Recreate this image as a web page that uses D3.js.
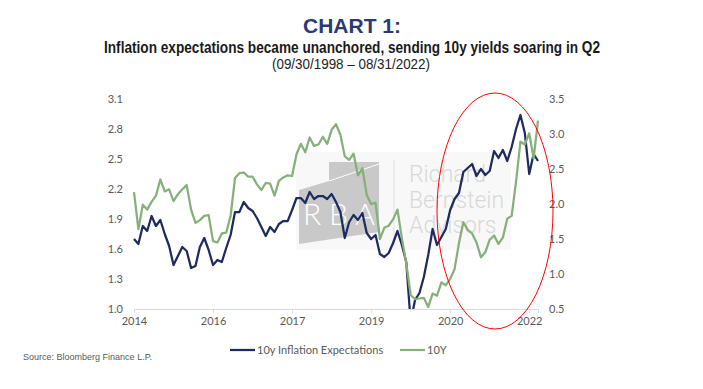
<!DOCTYPE html>
<html lang="en">
  <head>
    <meta charset="UTF-8" />
    <title>Chart 1</title>
    <style>
      body { margin: 0; background: #fff; }
      text { font-family: Lato, "Liberation Sans", sans-serif; }
    </style>
  </head>
  <body>
    <svg id="svg" width="703" height="389"></svg>
    <script src="https://d3js.org/d3.v7.min.js"></script>
    <script>
      // monthly, Dec 2014 .. Aug 2022
      const months = d3.timeMonth.range(new Date(2014, 11, 1), new Date(2022, 8, 1));

      const inflationExp = [
        1.70, 1.65, 1.83, 1.78, 1.93, 1.83, 1.89, 1.75, 1.63, 1.44, 1.53, 1.62, 1.58,
        1.41, 1.43, 1.62, 1.71, 1.59, 1.44, 1.49, 1.47, 1.61, 1.74, 1.97, 1.97,
        2.07, 2.01, 1.98, 1.91, 1.82, 1.73, 1.82, 1.77, 1.85, 1.88, 1.88, 1.99,
        2.11, 2.11, 2.06, 2.17, 2.10, 2.13, 2.13, 2.10, 2.15, 2.07, 1.97, 1.71,
        1.87, 1.94, 1.89, 1.96, 1.76, 1.70, 1.74, 1.55, 1.52, 1.56, 1.66, 1.78,
        1.64, 1.47, 0.87, 1.09, 1.16, 1.32, 1.54, 1.80, 1.64, 1.72, 1.80, 1.99,
        2.10, 2.16, 2.37, 2.41, 2.45, 2.33, 2.40, 2.34, 2.38, 2.58, 2.51, 2.59,
        2.48, 2.62, 2.80, 2.94, 2.76, 2.35, 2.55, 2.48
      ];

      const tenYear = [
        2.17, 1.64, 1.99, 1.92, 2.03, 2.12, 2.35, 2.18, 2.21, 2.04, 2.14, 2.21, 2.27,
        1.92, 1.73, 1.77, 1.83, 1.84, 1.47, 1.45, 1.58, 1.59, 1.83, 2.37, 2.44,
        2.45, 2.39, 2.39, 2.28, 2.20, 2.30, 2.29, 2.12, 2.33, 2.38, 2.41, 2.40,
        2.71, 2.86, 2.74, 2.95, 2.83, 2.85, 2.96, 2.86, 3.06, 3.14, 2.99, 2.68,
        2.63, 2.72, 2.41, 2.51, 2.13, 2.00, 2.02, 1.50, 1.66, 1.69, 1.78, 1.92,
        1.51, 1.15, 0.70, 0.64, 0.65, 0.66, 0.53, 0.72, 0.69, 0.88, 0.84, 0.93,
        1.07, 1.44, 1.74, 1.63, 1.58, 1.45, 1.24, 1.31, 1.49, 1.55, 1.43, 1.52,
        1.79, 1.83, 2.32, 2.89, 2.85, 3.01, 2.65, 3.19
      ];

      const leftTicks = [1.0, 1.3, 1.6, 1.9, 2.2, 2.5, 2.8, 3.1];
      const rightTicks = [0.5, 1.0, 1.5, 2.0, 2.5, 3.0, 3.5];
      const xTickIndex = [0, 18, 36, 54, 72, 90];
      const xTickLabels = ["2014", "2016", "2017", "2019", "2020", "2022"];

      const navy = "#1f2a5e";
      const green = "#86b07a";
      const grey = "#595959";

      const plot = { left: 134, right: 538, top: 99, bottom: 309 };

      const svg = d3.select("#svg");
      svg.append("rect").attr("width", 703).attr("height", 389).attr("fill", "#fff");

      // Titles
      svg.append("text")
        .attr("x", 352).attr("y", 33)
        .attr("text-anchor", "middle")
        .style("font-family", "'Liberation Sans', Arial, sans-serif")
        .style("font-weight", "bold")
        .style("font-size", "21px")
        .attr("fill", "#2b3a72")
        .text("CHART 1:");

      svg.append("text")
        .attr("x", 352).attr("y", 53)
        .attr("text-anchor", "middle")
        .attr("textLength", 496)
        .attr("lengthAdjust", "spacingAndGlyphs")
        .style("font-family", "'Liberation Sans Narrow', 'Liberation Sans', sans-serif")
        .style("font-weight", "bold")
        .style("font-size", "16px")
        .attr("fill", "#1a1a1a")
        .text("Inflation expectations became unanchored, sending 10y yields soaring in Q2");

      svg.append("text")
        .attr("x", 351).attr("y", 69)
        .attr("text-anchor", "middle")
        .attr("textLength", 158)
        .attr("lengthAdjust", "spacingAndGlyphs")
        .style("font-family", "'Liberation Sans Narrow', 'Liberation Sans', sans-serif")
        .style("font-size", "14px")
        .attr("fill", "#222")
        .text("(09/30/1998 \u2013 08/31/2022)");

      // Watermark (behind the lines)
      const wm = svg.append("g");
      wm.append("rect")
        .attr("x", 296).attr("y", 152).attr("width", 215).attr("height", 98)
        .attr("fill", "#f8f8f8");
      wm.append("polygon")
        .attr("points", "299,190 329,181 329,162 379,162 379,232 299,244")
        .attr("fill", "#c9c9c9");
      wm.append("line")
        .attr("x1", 329).attr("y1", 181).attr("x2", 379).attr("y2", 164)
        .attr("stroke", "#fff").attr("stroke-width", 1);
      wm.append("text")
        .attr("x", 303).attr("y", 225)
        .attr("textLength", 72)
        .attr("lengthAdjust", "spacing")
        .style("font-size", "30px")
        .style("font-weight", 300)
        .attr("fill", "#fff")
        .text("RBA");
      wm.append("line")
        .attr("x1", 394).attr("y1", 160).attr("x2", 394).attr("y2", 246)
        .attr("stroke", "#e0e0e0").attr("stroke-width", 1);
      ["Richard", "Bernstein", "Advisors"].forEach((t, i) => {
        wm.append("text")
          .attr("x", 409).attr("y", 182 + i * 25.5)
          .style("font-family", "Roboto, sans-serif")
          .style("font-weight", 300)
          .style("font-size", "23px")
          .attr("fill", "#d8d8d8")
          .text(t);
      });

      // Scales
      const x = d3.scalePoint()
        .domain(d3.range(months.length))
        .range([plot.left, plot.right]);
      const yL = d3.scaleLinear().domain([1.0, 3.1]).range([plot.bottom, plot.top]);
      const yR = d3.scaleLinear().domain([0.5, 3.5]).range([plot.bottom, plot.top]);

      // x axis
      const xAxis = svg.append("g")
        .attr("transform", `translate(0, ${plot.bottom})`)
        .call(d3.axisBottom(x)
          .tickValues(xTickIndex)
          .tickFormat((d, i) => xTickLabels[i])
          .tickSizeOuter(0)
          .tickSize(4)
          .tickPadding(4));
      xAxis.select(".domain").attr("stroke", "#d9d9d9");
      xAxis.selectAll(".tick line").attr("stroke", "#d9d9d9");
      xAxis.selectAll("text").attr("fill", grey).style("font-size", "11px")
        .style("font-family", "Lato, sans-serif");

      // y axes
      const leftAxis = svg.append("g")
        .attr("transform", `translate(${plot.left}, 0)`)
        .call(d3.axisLeft(yL).tickValues(leftTicks).tickFormat(d3.format(".1f"))
          .tickSize(0).tickPadding(11));
      leftAxis.select(".domain").remove();
      leftAxis.selectAll("text").attr("fill", grey).style("font-size", "11px")
        .style("font-family", "Lato, sans-serif");

      const rightAxis = svg.append("g")
        .attr("transform", `translate(${plot.right}, 0)`)
        .call(d3.axisRight(yR).tickValues(rightTicks).tickFormat(d3.format(".1f"))
          .tickSize(0).tickPadding(11));
      rightAxis.select(".domain").remove();
      rightAxis.selectAll("text").attr("fill", grey).style("font-size", "11px")
        .style("font-family", "Lato, sans-serif");

      // clip lines to the plot area
      svg.append("clipPath").attr("id", "plotClip")
        .append("rect")
        .attr("x", plot.left - 5).attr("y", plot.top - 10)
        .attr("width", plot.right - plot.left + 10)
        .attr("height", plot.bottom - plot.top + 10);

      const lines = svg.append("g").attr("clip-path", "url(#plotClip)");

      const navyLine = d3.line().x((d, i) => x(i)).y((d) => yL(d));
      const greenLine = d3.line().x((d, i) => x(i)).y((d) => yR(d));

      lines.append("path")
        .datum(inflationExp)
        .attr("d", navyLine)
        .attr("fill", "none")
        .attr("stroke", navy)
        .attr("stroke-width", 2.25)
        .attr("stroke-linejoin", "round");

      lines.append("path")
        .datum(tenYear)
        .attr("d", greenLine)
        .attr("fill", "none")
        .attr("stroke", green)
        .attr("stroke-width", 2.25)
        .attr("stroke-linejoin", "round");

      // red highlight ellipse
      svg.append("ellipse")
        .attr("cx", 495).attr("cy", 211)
        .attr("rx", 58).attr("ry", 118)
        .attr("fill", "none")
        .attr("stroke", "#ff0000")
        .attr("stroke-width", 1);

      // Legend
      const legend = svg.append("g").attr("transform", "translate(0, 350)");
      const items = [
        { label: "10y Inflation Expectations", color: navy, x: 230 },
        { label: "10Y", color: green, x: 400 },
      ];
      items.forEach((it) => {
        legend.append("line")
          .attr("x1", it.x).attr("x2", it.x + 25)
          .attr("y1", 0).attr("y2", 0)
          .attr("stroke", it.color).attr("stroke-width", 2.25);
        legend.append("text")
          .attr("x", it.x + 27).attr("y", 4)
          .attr("fill", grey)
          .style("font-size", "11px")
          .text(it.label);
      });

      // Source
      svg.append("text")
        .attr("x", 23).attr("y", 360)
        .attr("fill", grey)
        .attr("textLength", 129)
        .attr("lengthAdjust", "spacingAndGlyphs")
        .style("font-family", "'Liberation Sans', Arial, sans-serif")
        .style("font-size", "9px")
        .text("Source: Bloomberg Finance L.P.");
    </script>
  </body>
</html>
